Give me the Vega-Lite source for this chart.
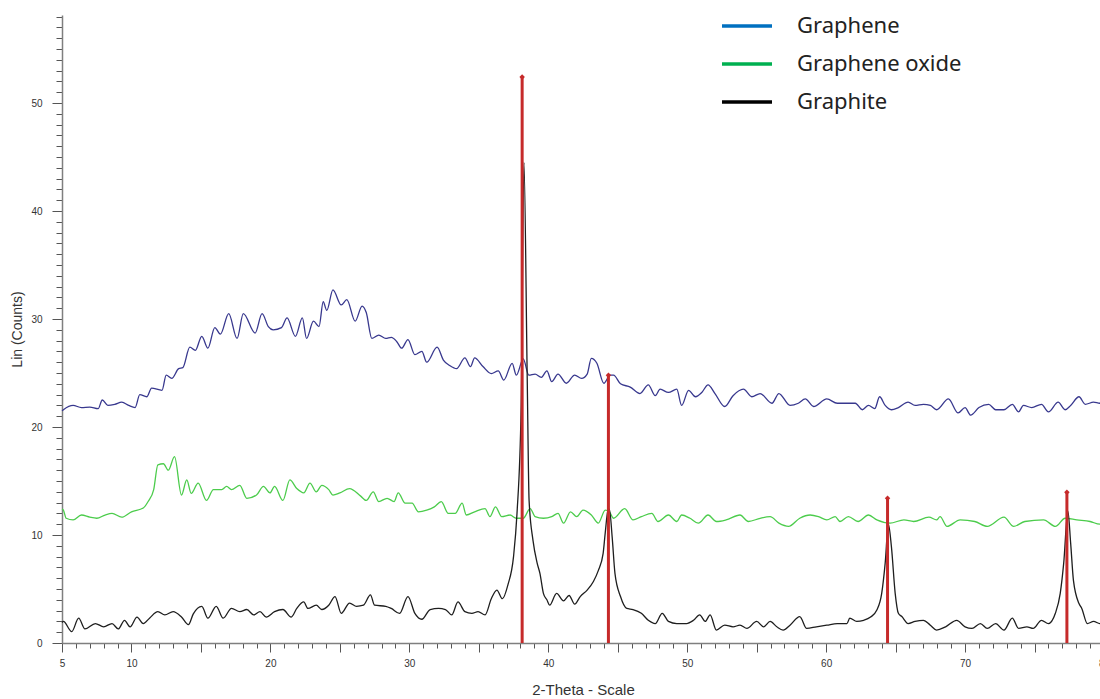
{
  "$schema": "https://vega.github.io/schema/vega-lite/v6.json",
  "autosize": "none",
  "width": 1042,
  "height": 628,
  "padding": {"left": 62, "top": 15, "right": 0, "bottom": 56},
  "background": "white",
  "config": {"view": {"stroke": null}},
  "datasets": {
    "sticks": [
      {"x": 38.12, "y": 52.4},
      {"x": 44.33, "y": 24.8},
      {"x": 64.42, "y": 13.4},
      {"x": 77.33, "y": 13.95}
    ],
    "lines": [
      {"s":"Graphene","x":5.0,"y":21.5},{"s":"Graphene","x":5.1,"y":21.6},{"s":"Graphene","x":5.8,"y":22.0},{"s":"Graphene","x":6.4,"y":21.8},{"s":"Graphene","x":7.0,"y":21.85},{"s":"Graphene","x":7.6,"y":21.7},{"s":"Graphene","x":7.9,"y":22.5},{"s":"Graphene","x":8.3,"y":22.0},{"s":"Graphene","x":8.8,"y":22.1},{"s":"Graphene","x":9.3,"y":22.3},{"s":"Graphene","x":9.8,"y":22.0},{"s":"Graphene","x":10.26,"y":21.8},{"s":"Graphene","x":10.6,"y":23.0},{"s":"Graphene","x":11.1,"y":22.8},{"s":"Graphene","x":11.45,"y":23.6},{"s":"Graphene","x":12.2,"y":23.4},{"s":"Graphene","x":12.5,"y":24.8},{"s":"Graphene","x":12.9,"y":24.5},{"s":"Graphene","x":13.4,"y":25.4},{"s":"Graphene","x":13.7,"y":25.5},{"s":"Graphene","x":14.2,"y":27.4},{"s":"Graphene","x":14.6,"y":27.1},{"s":"Graphene","x":15.06,"y":28.4},{"s":"Graphene","x":15.5,"y":27.3},{"s":"Graphene","x":16.0,"y":29.2},{"s":"Graphene","x":16.4,"y":28.6},{"s":"Graphene","x":17.0,"y":30.5},{"s":"Graphene","x":17.6,"y":28.2},{"s":"Graphene","x":18.05,"y":30.5},{"s":"Graphene","x":18.9,"y":28.7},{"s":"Graphene","x":19.4,"y":30.5},{"s":"Graphene","x":19.85,"y":29.3},{"s":"Graphene","x":20.2,"y":29.0},{"s":"Graphene","x":20.8,"y":29.2},{"s":"Graphene","x":21.2,"y":30.1},{"s":"Graphene","x":21.8,"y":28.4},{"s":"Graphene","x":22.3,"y":30.1},{"s":"Graphene","x":22.6,"y":28.2},{"s":"Graphene","x":23.1,"y":29.8},{"s":"Graphene","x":23.5,"y":29.3},{"s":"Graphene","x":23.8,"y":31.6},{"s":"Graphene","x":24.06,"y":30.8},{"s":"Graphene","x":24.5,"y":32.7},{"s":"Graphene","x":25.1,"y":31.3},{"s":"Graphene","x":25.5,"y":31.8},{"s":"Graphene","x":26.1,"y":29.8},{"s":"Graphene","x":26.6,"y":31.2},{"s":"Graphene","x":26.9,"y":30.6},{"s":"Graphene","x":27.3,"y":28.2},{"s":"Graphene","x":27.8,"y":28.5},{"s":"Graphene","x":28.3,"y":28.2},{"s":"Graphene","x":28.7,"y":28.3},{"s":"Graphene","x":29.1,"y":27.9},{"s":"Graphene","x":29.45,"y":27.3},{"s":"Graphene","x":29.9,"y":28.1},{"s":"Graphene","x":30.4,"y":26.7},{"s":"Graphene","x":30.9,"y":27.0},{"s":"Graphene","x":31.25,"y":26.0},{"s":"Graphene","x":32.0,"y":27.4},{"s":"Graphene","x":32.45,"y":26.2},{"s":"Graphene","x":32.9,"y":25.7},{"s":"Graphene","x":33.4,"y":25.4},{"s":"Graphene","x":34.0,"y":26.4},{"s":"Graphene","x":34.4,"y":25.6},{"s":"Graphene","x":34.7,"y":26.4},{"s":"Graphene","x":35.3,"y":25.6},{"s":"Graphene","x":35.9,"y":24.95},{"s":"Graphene","x":36.4,"y":25.2},{"s":"Graphene","x":36.8,"y":24.35},{"s":"Graphene","x":37.4,"y":25.9},{"s":"Graphene","x":37.7,"y":24.8},{"s":"Graphene","x":38.2,"y":26.3},{"s":"Graphene","x":38.6,"y":24.8},{"s":"Graphene","x":39.05,"y":24.9},{"s":"Graphene","x":39.5,"y":24.6},{"s":"Graphene","x":39.9,"y":25.2},{"s":"Graphene","x":40.25,"y":24.2},{"s":"Graphene","x":40.7,"y":24.9},{"s":"Graphene","x":41.3,"y":24.05},{"s":"Graphene","x":41.9,"y":24.8},{"s":"Graphene","x":42.4,"y":24.5},{"s":"Graphene","x":42.8,"y":24.9},{"s":"Graphene","x":43.1,"y":26.35},{"s":"Graphene","x":43.5,"y":25.9},{"s":"Graphene","x":44.0,"y":24.05},{"s":"Graphene","x":44.45,"y":24.8},{"s":"Graphene","x":44.7,"y":24.8},{"s":"Graphene","x":45.2,"y":24.0},{"s":"Graphene","x":45.9,"y":23.7},{"s":"Graphene","x":46.6,"y":23.1},{"s":"Graphene","x":47.2,"y":23.9},{"s":"Graphene","x":47.7,"y":22.9},{"s":"Graphene","x":48.05,"y":23.5},{"s":"Graphene","x":48.65,"y":23.2},{"s":"Graphene","x":49.25,"y":23.5},{"s":"Graphene","x":49.6,"y":22.0},{"s":"Graphene","x":50.1,"y":23.4},{"s":"Graphene","x":50.6,"y":22.8},{"s":"Graphene","x":51.05,"y":23.2},{"s":"Graphene","x":51.5,"y":23.9},{"s":"Graphene","x":52.0,"y":23.1},{"s":"Graphene","x":52.7,"y":21.9},{"s":"Graphene","x":53.3,"y":22.9},{"s":"Graphene","x":54.05,"y":23.5},{"s":"Graphene","x":54.65,"y":22.8},{"s":"Graphene","x":55.25,"y":23.1},{"s":"Graphene","x":56.1,"y":22.2},{"s":"Graphene","x":56.6,"y":23.1},{"s":"Graphene","x":57.4,"y":22.0},{"s":"Graphene","x":58.0,"y":22.2},{"s":"Graphene","x":58.5,"y":22.6},{"s":"Graphene","x":59.1,"y":21.9},{"s":"Graphene","x":60.05,"y":22.6},{"s":"Graphene","x":60.8,"y":22.2},{"s":"Graphene","x":61.5,"y":22.2},{"s":"Graphene","x":62.1,"y":22.2},{"s":"Graphene","x":62.6,"y":21.6},{"s":"Graphene","x":63.05,"y":22.0},{"s":"Graphene","x":63.5,"y":21.7},{"s":"Graphene","x":63.85,"y":22.8},{"s":"Graphene","x":64.25,"y":22.0},{"s":"Graphene","x":64.7,"y":21.6},{"s":"Graphene","x":65.2,"y":21.8},{"s":"Graphene","x":65.9,"y":22.3},{"s":"Graphene","x":66.4,"y":22.0},{"s":"Graphene","x":67.0,"y":22.1},{"s":"Graphene","x":67.5,"y":22.0},{"s":"Graphene","x":67.95,"y":21.6},{"s":"Graphene","x":68.8,"y":22.6},{"s":"Graphene","x":69.5,"y":21.3},{"s":"Graphene","x":70.0,"y":21.8},{"s":"Graphene","x":70.4,"y":21.1},{"s":"Graphene","x":71.0,"y":21.8},{"s":"Graphene","x":71.7,"y":22.1},{"s":"Graphene","x":72.2,"y":21.6},{"s":"Graphene","x":72.8,"y":21.6},{"s":"Graphene","x":73.4,"y":22.1},{"s":"Graphene","x":73.85,"y":21.4},{"s":"Graphene","x":74.2,"y":22.0},{"s":"Graphene","x":74.8,"y":21.8},{"s":"Graphene","x":75.5,"y":22.1},{"s":"Graphene","x":76.0,"y":21.4},{"s":"Graphene","x":76.7,"y":22.3},{"s":"Graphene","x":77.2,"y":21.6},{"s":"Graphene","x":77.6,"y":22.0},{"s":"Graphene","x":78.2,"y":22.8},{"s":"Graphene","x":78.65,"y":22.1},{"s":"Graphene","x":79.25,"y":22.3},{"s":"Graphene","x":79.7,"y":22.2},{"s":"Graphene","x":80.0,"y":22.3},
      {"s":"Graphene oxide","x":5.0,"y":12.4},{"s":"Graphene oxide","x":5.1,"y":12.3},{"s":"Graphene oxide","x":5.3,"y":11.55},{"s":"Graphene oxide","x":5.8,"y":11.4},{"s":"Graphene oxide","x":6.4,"y":11.85},{"s":"Graphene oxide","x":7.0,"y":11.65},{"s":"Graphene oxide","x":7.5,"y":11.55},{"s":"Graphene oxide","x":8.1,"y":11.85},{"s":"Graphene oxide","x":8.6,"y":12.0},{"s":"Graphene oxide","x":9.3,"y":11.65},{"s":"Graphene oxide","x":10.0,"y":12.15},{"s":"Graphene oxide","x":10.85,"y":12.5},{"s":"Graphene oxide","x":11.2,"y":13.1},{"s":"Graphene oxide","x":11.6,"y":14.2},{"s":"Graphene oxide","x":11.9,"y":16.5},{"s":"Graphene oxide","x":12.3,"y":16.6},{"s":"Graphene oxide","x":12.65,"y":16.0},{"s":"Graphene oxide","x":13.1,"y":17.25},{"s":"Graphene oxide","x":13.6,"y":13.7},{"s":"Graphene oxide","x":13.98,"y":15.1},{"s":"Graphene oxide","x":14.3,"y":13.85},{"s":"Graphene oxide","x":14.8,"y":14.8},{"s":"Graphene oxide","x":15.4,"y":13.2},{"s":"Graphene oxide","x":15.9,"y":14.2},{"s":"Graphene oxide","x":16.5,"y":14.2},{"s":"Graphene oxide","x":16.85,"y":14.5},{"s":"Graphene oxide","x":17.2,"y":14.2},{"s":"Graphene oxide","x":17.8,"y":14.6},{"s":"Graphene oxide","x":18.3,"y":13.4},{"s":"Graphene oxide","x":19.0,"y":13.7},{"s":"Graphene oxide","x":19.5,"y":14.5},{"s":"Graphene oxide","x":19.97,"y":13.9},{"s":"Graphene oxide","x":20.3,"y":14.5},{"s":"Graphene oxide","x":20.9,"y":13.2},{"s":"Graphene oxide","x":21.4,"y":15.1},{"s":"Graphene oxide","x":21.9,"y":14.3},{"s":"Graphene oxide","x":22.4,"y":13.9},{"s":"Graphene oxide","x":22.85,"y":14.8},{"s":"Graphene oxide","x":23.3,"y":14.0},{"s":"Graphene oxide","x":23.7,"y":14.6},{"s":"Graphene oxide","x":24.2,"y":14.2},{"s":"Graphene oxide","x":24.5,"y":13.7},{"s":"Graphene oxide","x":25.0,"y":13.9},{"s":"Graphene oxide","x":25.7,"y":14.3},{"s":"Graphene oxide","x":26.5,"y":13.6},{"s":"Graphene oxide","x":26.9,"y":13.2},{"s":"Graphene oxide","x":27.4,"y":14.0},{"s":"Graphene oxide","x":27.8,"y":13.1},{"s":"Graphene oxide","x":28.4,"y":13.4},{"s":"Graphene oxide","x":28.9,"y":13.1},{"s":"Graphene oxide","x":29.2,"y":13.9},{"s":"Graphene oxide","x":29.7,"y":12.95},{"s":"Graphene oxide","x":30.2,"y":12.95},{"s":"Graphene oxide","x":30.65,"y":12.15},{"s":"Graphene oxide","x":31.25,"y":12.3},{"s":"Graphene oxide","x":31.8,"y":12.6},{"s":"Graphene oxide","x":32.3,"y":13.1},{"s":"Graphene oxide","x":32.8,"y":12.0},{"s":"Graphene oxide","x":33.3,"y":12.0},{"s":"Graphene oxide","x":33.8,"y":12.95},{"s":"Graphene oxide","x":34.1,"y":11.85},{"s":"Graphene oxide","x":34.7,"y":12.15},{"s":"Graphene oxide","x":35.45,"y":12.45},{"s":"Graphene oxide","x":35.8,"y":11.7},{"s":"Graphene oxide","x":36.2,"y":12.6},{"s":"Graphene oxide","x":36.65,"y":11.7},{"s":"Graphene oxide","x":37.25,"y":11.85},{"s":"Graphene oxide","x":37.7,"y":11.55},{"s":"Graphene oxide","x":38.2,"y":11.55},{"s":"Graphene oxide","x":38.7,"y":12.45},{"s":"Graphene oxide","x":39.05,"y":11.7},{"s":"Graphene oxide","x":39.65,"y":11.55},{"s":"Graphene oxide","x":40.25,"y":11.7},{"s":"Graphene oxide","x":40.7,"y":12.0},{"s":"Graphene oxide","x":41.1,"y":11.1},{"s":"Graphene oxide","x":41.6,"y":12.15},{"s":"Graphene oxide","x":42.05,"y":11.7},{"s":"Graphene oxide","x":42.5,"y":12.3},{"s":"Graphene oxide","x":43.1,"y":11.85},{"s":"Graphene oxide","x":43.6,"y":11.1},{"s":"Graphene oxide","x":44.1,"y":12.3},{"s":"Graphene oxide","x":44.4,"y":12.15},{"s":"Graphene oxide","x":44.7,"y":11.55},{"s":"Graphene oxide","x":45.5,"y":12.45},{"s":"Graphene oxide","x":46.1,"y":11.4},{"s":"Graphene oxide","x":46.7,"y":11.7},{"s":"Graphene oxide","x":47.45,"y":12.0},{"s":"Graphene oxide","x":47.9,"y":11.25},{"s":"Graphene oxide","x":48.65,"y":11.85},{"s":"Graphene oxide","x":49.25,"y":11.25},{"s":"Graphene oxide","x":49.6,"y":11.85},{"s":"Graphene oxide","x":50.2,"y":11.55},{"s":"Graphene oxide","x":50.8,"y":11.1},{"s":"Graphene oxide","x":51.5,"y":11.85},{"s":"Graphene oxide","x":52.1,"y":11.25},{"s":"Graphene oxide","x":52.8,"y":11.4},{"s":"Graphene oxide","x":53.8,"y":11.85},{"s":"Graphene oxide","x":54.4,"y":11.25},{"s":"Graphene oxide","x":55.25,"y":11.55},{"s":"Graphene oxide","x":55.97,"y":11.7},{"s":"Graphene oxide","x":56.6,"y":11.1},{"s":"Graphene oxide","x":57.3,"y":10.8},{"s":"Graphene oxide","x":58.1,"y":11.55},{"s":"Graphene oxide","x":58.85,"y":11.85},{"s":"Graphene oxide","x":59.45,"y":11.7},{"s":"Graphene oxide","x":60.05,"y":11.4},{"s":"Graphene oxide","x":60.65,"y":11.7},{"s":"Graphene oxide","x":61.0,"y":11.25},{"s":"Graphene oxide","x":61.6,"y":11.7},{"s":"Graphene oxide","x":62.3,"y":11.25},{"s":"Graphene oxide","x":63.05,"y":11.85},{"s":"Graphene oxide","x":63.65,"y":11.4},{"s":"Graphene oxide","x":64.6,"y":11.1},{"s":"Graphene oxide","x":65.6,"y":11.4},{"s":"Graphene oxide","x":66.3,"y":11.25},{"s":"Graphene oxide","x":67.4,"y":11.65},{"s":"Graphene oxide","x":67.95,"y":11.4},{"s":"Graphene oxide","x":68.2,"y":11.7},{"s":"Graphene oxide","x":68.7,"y":10.8},{"s":"Graphene oxide","x":69.65,"y":11.4},{"s":"Graphene oxide","x":70.7,"y":11.25},{"s":"Graphene oxide","x":71.6,"y":10.8},{"s":"Graphene oxide","x":72.8,"y":11.65},{"s":"Graphene oxide","x":73.5,"y":10.8},{"s":"Graphene oxide","x":74.3,"y":11.25},{"s":"Graphene oxide","x":75.65,"y":11.4},{"s":"Graphene oxide","x":76.5,"y":10.8},{"s":"Graphene oxide","x":77.2,"y":11.55},{"s":"Graphene oxide","x":78.05,"y":11.4},{"s":"Graphene oxide","x":79.0,"y":11.25},{"s":"Graphene oxide","x":79.7,"y":11.0},{"s":"Graphene oxide","x":80.0,"y":11.1},
      {"s":"Graphite","x":5.0,"y":1.9},{"s":"Graphite","x":5.1,"y":2.0},{"s":"Graphite","x":5.7,"y":1.05},{"s":"Graphite","x":6.2,"y":2.3},{"s":"Graphite","x":6.65,"y":1.3},{"s":"Graphite","x":7.4,"y":1.8},{"s":"Graphite","x":8.0,"y":1.5},{"s":"Graphite","x":8.6,"y":1.8},{"s":"Graphite","x":9.05,"y":1.3},{"s":"Graphite","x":9.5,"y":2.1},{"s":"Graphite","x":9.9,"y":1.5},{"s":"Graphite","x":10.4,"y":2.4},{"s":"Graphite","x":10.85,"y":1.8},{"s":"Graphite","x":11.3,"y":2.3},{"s":"Graphite","x":11.9,"y":2.9},{"s":"Graphite","x":12.4,"y":2.6},{"s":"Graphite","x":13.0,"y":2.9},{"s":"Graphite","x":13.6,"y":2.4},{"s":"Graphite","x":14.1,"y":1.7},{"s":"Graphite","x":14.45,"y":2.7},{"s":"Graphite","x":15.06,"y":3.4},{"s":"Graphite","x":15.5,"y":2.3},{"s":"Graphite","x":16.1,"y":3.4},{"s":"Graphite","x":16.6,"y":2.3},{"s":"Graphite","x":17.2,"y":3.2},{"s":"Graphite","x":17.8,"y":2.9},{"s":"Graphite","x":18.3,"y":3.1},{"s":"Graphite","x":18.8,"y":2.6},{"s":"Graphite","x":19.25,"y":2.9},{"s":"Graphite","x":19.7,"y":2.4},{"s":"Graphite","x":20.3,"y":2.9},{"s":"Graphite","x":20.9,"y":3.1},{"s":"Graphite","x":21.5,"y":2.4},{"s":"Graphite","x":21.9,"y":3.2},{"s":"Graphite","x":22.4,"y":3.8},{"s":"Graphite","x":22.7,"y":3.2},{"s":"Graphite","x":23.3,"y":3.5},{"s":"Graphite","x":23.7,"y":3.1},{"s":"Graphite","x":24.2,"y":3.5},{"s":"Graphite","x":24.65,"y":4.3},{"s":"Graphite","x":25.1,"y":2.75},{"s":"Graphite","x":25.7,"y":3.7},{"s":"Graphite","x":26.2,"y":3.4},{"s":"Graphite","x":26.7,"y":3.5},{"s":"Graphite","x":27.2,"y":4.45},{"s":"Graphite","x":27.5,"y":3.5},{"s":"Graphite","x":28.3,"y":3.4},{"s":"Graphite","x":28.7,"y":3.2},{"s":"Graphite","x":29.3,"y":2.75},{"s":"Graphite","x":29.9,"y":4.3},{"s":"Graphite","x":30.4,"y":2.75},{"s":"Graphite","x":30.9,"y":2.2},{"s":"Graphite","x":31.5,"y":3.1},{"s":"Graphite","x":32.1,"y":3.2},{"s":"Graphite","x":32.6,"y":3.1},{"s":"Graphite","x":33.05,"y":2.6},{"s":"Graphite","x":33.5,"y":3.8},{"s":"Graphite","x":34.0,"y":2.9},{"s":"Graphite","x":34.5,"y":2.75},{"s":"Graphite","x":34.95,"y":2.9},{"s":"Graphite","x":35.45,"y":2.6},{"s":"Graphite","x":35.9,"y":4.1},{"s":"Graphite","x":36.3,"y":4.9},{"s":"Graphite","x":36.7,"y":4.1},{"s":"Graphite","x":37.1,"y":5.4},{"s":"Graphite","x":37.5,"y":8.0},{"s":"Graphite","x":37.75,"y":12.0},{"s":"Graphite","x":38.05,"y":21.9},{"s":"Graphite","x":38.25,"y":44.5},{"s":"Graphite","x":38.48,"y":25.0},{"s":"Graphite","x":38.62,"y":13.2},{"s":"Graphite","x":38.9,"y":9.5},{"s":"Graphite","x":39.2,"y":7.4},{"s":"Graphite","x":39.4,"y":6.45},{"s":"Graphite","x":39.65,"y":4.6},{"s":"Graphite","x":39.9,"y":4.0},{"s":"Graphite","x":40.1,"y":3.5},{"s":"Graphite","x":40.6,"y":4.6},{"s":"Graphite","x":41.1,"y":3.9},{"s":"Graphite","x":41.5,"y":4.4},{"s":"Graphite","x":41.9,"y":3.6},{"s":"Graphite","x":42.3,"y":4.3},{"s":"Graphite","x":42.8,"y":4.9},{"s":"Graphite","x":43.25,"y":5.7},{"s":"Graphite","x":43.6,"y":6.7},{"s":"Graphite","x":43.95,"y":8.3},{"s":"Graphite","x":44.1,"y":10.2},{"s":"Graphite","x":44.3,"y":12.3},{"s":"Graphite","x":44.4,"y":12.4},{"s":"Graphite","x":44.6,"y":9.8},{"s":"Graphite","x":44.8,"y":6.45},{"s":"Graphite","x":45.2,"y":4.3},{"s":"Graphite","x":45.65,"y":3.2},{"s":"Graphite","x":46.1,"y":3.1},{"s":"Graphite","x":46.7,"y":2.75},{"s":"Graphite","x":47.2,"y":2.1},{"s":"Graphite","x":47.7,"y":1.8},{"s":"Graphite","x":48.2,"y":2.75},{"s":"Graphite","x":48.65,"y":2.0},{"s":"Graphite","x":49.25,"y":1.8},{"s":"Graphite","x":49.95,"y":1.8},{"s":"Graphite","x":50.45,"y":2.1},{"s":"Graphite","x":50.9,"y":2.6},{"s":"Graphite","x":51.3,"y":2.0},{"s":"Graphite","x":51.65,"y":2.6},{"s":"Graphite","x":52.1,"y":1.2},{"s":"Graphite","x":52.7,"y":1.65},{"s":"Graphite","x":53.3,"y":1.5},{"s":"Graphite","x":53.8,"y":1.65},{"s":"Graphite","x":54.3,"y":1.35},{"s":"Graphite","x":55.0,"y":2.0},{"s":"Graphite","x":55.5,"y":1.5},{"s":"Graphite","x":55.97,"y":2.0},{"s":"Graphite","x":56.45,"y":1.5},{"s":"Graphite","x":56.9,"y":1.2},{"s":"Graphite","x":57.4,"y":1.65},{"s":"Graphite","x":58.1,"y":2.45},{"s":"Graphite","x":58.6,"y":1.35},{"s":"Graphite","x":59.3,"y":1.5},{"s":"Graphite","x":60.05,"y":1.65},{"s":"Graphite","x":60.8,"y":1.8},{"s":"Graphite","x":61.5,"y":1.8},{"s":"Graphite","x":61.7,"y":2.3},{"s":"Graphite","x":62.2,"y":2.0},{"s":"Graphite","x":62.7,"y":2.1},{"s":"Graphite","x":63.2,"y":2.4},{"s":"Graphite","x":63.65,"y":3.05},{"s":"Graphite","x":64.0,"y":4.6},{"s":"Graphite","x":64.25,"y":7.4},{"s":"Graphite","x":64.48,"y":11.0},{"s":"Graphite","x":64.7,"y":8.9},{"s":"Graphite","x":64.97,"y":4.6},{"s":"Graphite","x":65.2,"y":2.75},{"s":"Graphite","x":65.45,"y":2.45},{"s":"Graphite","x":65.9,"y":1.8},{"s":"Graphite","x":66.4,"y":2.0},{"s":"Graphite","x":67.0,"y":2.1},{"s":"Graphite","x":67.5,"y":1.65},{"s":"Graphite","x":67.95,"y":1.2},{"s":"Graphite","x":68.6,"y":1.5},{"s":"Graphite","x":69.4,"y":2.1},{"s":"Graphite","x":70.0,"y":1.5},{"s":"Graphite","x":70.5,"y":1.35},{"s":"Graphite","x":71.1,"y":1.8},{"s":"Graphite","x":71.6,"y":1.35},{"s":"Graphite","x":72.2,"y":1.8},{"s":"Graphite","x":72.8,"y":1.2},{"s":"Graphite","x":73.4,"y":2.3},{"s":"Graphite","x":73.85,"y":1.35},{"s":"Graphite","x":74.45,"y":1.5},{"s":"Graphite","x":74.9,"y":1.35},{"s":"Graphite","x":75.5,"y":2.1},{"s":"Graphite","x":76.0,"y":1.8},{"s":"Graphite","x":76.5,"y":2.75},{"s":"Graphite","x":76.85,"y":4.6},{"s":"Graphite","x":77.1,"y":7.4},{"s":"Graphite","x":77.4,"y":12.2},{"s":"Graphite","x":77.6,"y":9.25},{"s":"Graphite","x":77.8,"y":5.8},{"s":"Graphite","x":78.2,"y":3.65},{"s":"Graphite","x":78.4,"y":3.2},{"s":"Graphite","x":78.8,"y":1.8},{"s":"Graphite","x":79.25,"y":2.0},{"s":"Graphite","x":79.7,"y":1.8},{"s":"Graphite","x":80.0,"y":1.9}
    ]
  },
  "encoding": {
    "x": {
      "field": "x", "type": "quantitative",
      "scale": {"domain": [5, 80], "nice": false, "zero": false},
      "axis": {
        "title": "2-Theta - Scale",
        "values": [5,6,7,8,9,10,11,12,13,14,15,16,17,18,19,20,21,22,23,24,25,26,27,28,29,30,31,32,33,34,35,36,37,38,39,40,41,42,43,44,45,46,47,48,49,50,51,52,53,54,55,56,57,58,59,60,61,62,63,64,65,66,67,68,69,70,71,72,73,74,75,76,77,78,79,80],
        "labelExpr": "(datum.value % 10 === 0 || datum.value === 5) ? datum.label : ''",
        "labelOverlap": false, "labelFlush": false,
        "grid": false,
        "domainColor": "#7f7f7f", "domainWidth": 1.5,
        "tickColor": "#555555", "tickWidth": 1,
        "tickSize": {"condition": {"test": "datum.value % 5 === 0", "value": 9}, "value": 5},
        "labelFont": "Liberation Sans", "labelFontSize": 10, "labelColor": "#333333", "labelPadding": 6,
        "titleFont": "Liberation Sans", "titleFontSize": 15, "titleFontWeight": "normal", "titleColor": "#333333", "titlePadding": 14
      }
    },
    "y": {
      "field": "y", "type": "quantitative",
      "scale": {"domain": [0, 58.15], "nice": false},
      "axis": {
        "title": "Lin (Counts)",
        "values": [0,1,2,3,4,5,6,7,8,9,10,11,12,13,14,15,16,17,18,19,20,21,22,23,24,25,26,27,28,29,30,31,32,33,34,35,36,37,38,39,40,41,42,43,44,45,46,47,48,49,50,51,52,53,54,55,56,57,58],
        "labelExpr": "datum.value % 10 === 0 ? datum.label : ''",
        "labelOverlap": false, "labelFlush": false,
        "grid": false,
        "domainColor": "#7f7f7f", "domainWidth": 1.5,
        "tickColor": "#555555", "tickWidth": 1,
        "tickSize": {"condition": {"test": "datum.value % 10 === 0", "value": 10}, "value": 6},
        "labelFont": "Liberation Sans", "labelFontSize": 10, "labelColor": "#333333", "labelPadding": 10,
        "titleFont": "Liberation Sans", "titleFontSize": 14, "titleFontWeight": "normal", "titleColor": "#333333", "titlePadding": 6
      }
    }
  },
  "layer": [
    {
      "data": {"name": "lines"},
      "transform": [{"filter": "datum.x === 5"}],
      "mark": {"type": "line", "strokeCap": "butt"},
      "encoding": {
        "color": {
          "field": "s", "type": "nominal",
          "scale": {"domain": ["Graphene", "Graphene oxide", "Graphite"], "range": ["#0070C0", "#00B050", "#000000"]},
          "legend": {
            "title": null, "orient": "none", "legendX": 658, "legendY": -16,
            "symbolType": "stroke", "symbolSize": 2500,
            "labelFont": "Noto Sans", "labelFontSize": 22, "labelColor": "#222222", "labelLimit": 400,
            "labelOffset": 23, "rowPadding": -1, "padding": 0
          }
        },
        "strokeWidth": {
          "field": "s", "type": "nominal",
          "scale": {"domain": ["Graphene", "Graphene oxide", "Graphite"], "range": [3.5, 3.5, 3.5]},
          "legend": {
            "title": null, "orient": "none", "legendX": 658, "legendY": -16,
            "symbolType": "stroke", "symbolSize": 2500,
            "labelFont": "Noto Sans", "labelFontSize": 22, "labelColor": "#222222", "labelLimit": 400,
            "labelOffset": 23, "rowPadding": -1, "padding": 0
          }
        }
      }
    },
    {
      "data": {"name": "lines"},
      "mark": {"type": "line", "interpolate": "monotone"},
      "encoding": {
        "stroke": {
          "field": "s", "type": "nominal",
          "scale": {"domain": ["Graphene", "Graphene oxide", "Graphite"], "range": ["#38388e", "#4ccc4c", "#1e1e1e"]},
          "legend": null
        },
        "strokeWidth": {"value": 1.3}
      }
    },
    {
      "data": {"name": "sticks"},
      "mark": {"type": "rule", "color": "#c62a2a", "strokeWidth": 3},
      "encoding": {
        "y2": {"datum": 0}
      }
    },
    {
      "data": {"name": "sticks"},
      "mark": {"type": "point", "shape": "diamond", "filled": true, "size": 30, "color": "#c62a2a", "opacity": 1}
    }
  ]
}
